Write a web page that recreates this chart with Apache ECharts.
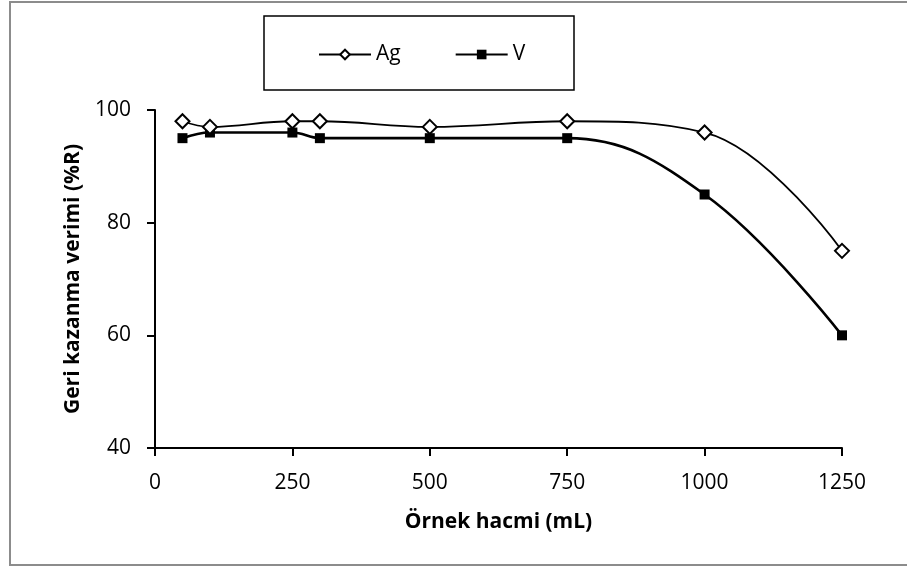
<!DOCTYPE html>
<html>
<head>
<meta charset="utf-8">
<script src="https://cdn.jsdelivr.net/npm/echarts@6/dist/echarts.min.js"></script>
<style>html,body{margin:0;padding:0;background:#fff;}#c{width:907px;height:567px;}</style>
</head>
<body>
<div id="c"></div>
<script>
const volumes = [50, 100, 250, 300, 500, 750, 1000, 1250];
const agValues = [98, 97, 98, 98, 97, 98, 96, 75];
const vValues = [95, 96, 96, 95, 95, 95, 85, 60];
const xTicks = [0, 250, 500, 750, 1000, 1250];
const yTicks = [40, 60, 80, 100];

const FONT = '"Open Sans", "Noto Sans", sans-serif';
const chart = echarts.init(document.getElementById('c'), null, {renderer: 'canvas'});
chart.setOption({
  animation: false,
  backgroundColor: '#fff',
  graphic: [
    {type: 'rect', shape: {x: 10, y: 2, width: 905, height: 563}, style: {fill: 'none', stroke: '#8c8c8c', lineWidth: 2}, z: 0},
    {type: 'rect', shape: {x: 264, y: 16, width: 310, height: 74}, style: {fill: 'none', stroke: '#000', lineWidth: 1.5}, z: 0}
  ],
  legend: {
    left: 313, top: 39,
    itemWidth: 52, itemHeight: 12, itemGap: 54,
    textStyle: {fontFamily: FONT, fontSize: 21, color: '#000'},
    data: ['Ag', 'V']
  },
  grid: {left: 155, right: 65, top: 110, bottom: 119, containLabel: false},
  xAxis: {
    type: 'value', min: xTicks[0], max: xTicks[xTicks.length - 1], interval: 250,
    name: 'Örnek hacmi (mL)', nameLocation: 'middle', nameGap: 64,
    nameTextStyle: {fontFamily: FONT, fontSize: 21, fontWeight: 'bold', color: '#000'},
    axisLine: {lineStyle: {color: '#000', width: 2}},
    axisTick: {show: true, length: 8, lineStyle: {color: '#000', width: 2}},
    axisLabel: {fontFamily: FONT, fontSize: 21, color: '#000', margin: 25, formatter: v => String(v)},
    splitLine: {show: false}
  },
  yAxis: {
    type: 'value', min: yTicks[0], max: yTicks[yTicks.length - 1], interval: 20,
    name: 'Geri kazanma verimi (%R)', nameLocation: 'middle', nameGap: 71,
    nameTextStyle: {fontFamily: FONT, fontSize: 21, fontWeight: 'bold', color: '#000'},
    axisLine: {lineStyle: {color: '#000', width: 2}},
    axisTick: {show: true, length: 8, lineStyle: {color: '#000', width: 2}},
    axisLabel: {fontFamily: FONT, fontSize: 21, color: '#000', margin: 24, formatter: v => String(v)},
    splitLine: {show: false}
  },
  series: [
    {
      name: 'Ag', type: 'line', smooth: 0.4,
      data: volumes.map((x, i) => [x, agValues[i]]),
      symbol: 'diamond', symbolSize: 14,
      lineStyle: {color: '#000', width: 1.8},
      itemStyle: {color: '#fff', borderColor: '#000', borderWidth: 2},
      z: 3
    },
    {
      name: 'V', type: 'line', smooth: 0.4,
      data: volumes.map((x, i) => [x, vValues[i]]),
      symbol: 'rect', symbolSize: 10,
      lineStyle: {color: '#000', width: 2.6},
      itemStyle: {color: '#000', borderColor: '#000', borderWidth: 0},
      z: 2
    }
  ]
});
</script>
</body>
</html>
